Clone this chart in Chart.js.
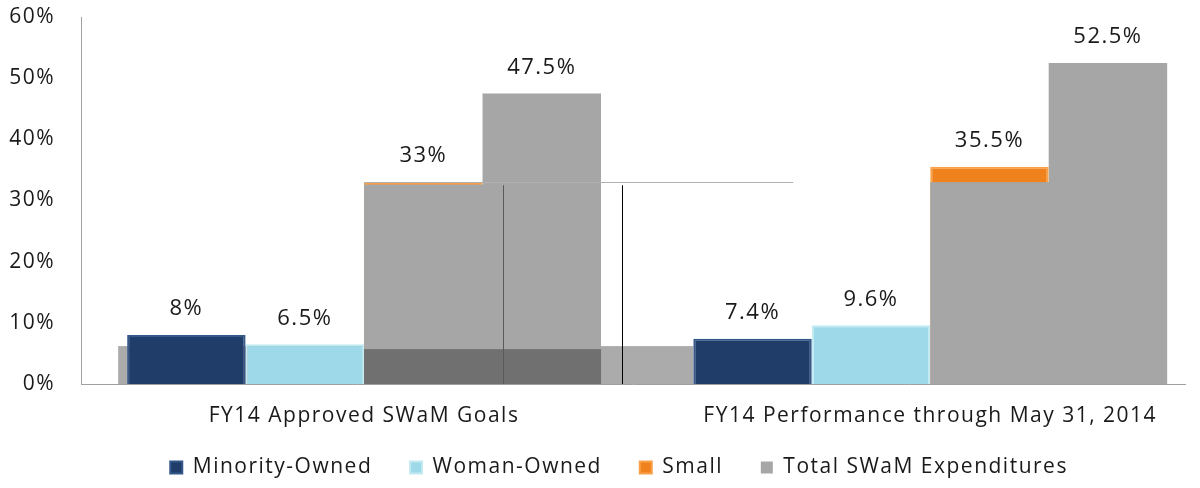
<!DOCTYPE html>
<html>
<head>
<meta charset="utf-8">
<script src="https://cdn.jsdelivr.net/npm/chart.js@4.4.0/dist/chart.umd.min.js"></script>
<style>
  html, body { margin: 0; padding: 0; background: #fff; }
</style>
</head>
<body>
<canvas id="chart" width="1200" height="488"></canvas>
<script>
const categories = ["FY14 Approved SWaM Goals", "FY14 Performance through May 31, 2014"];
const seriesNames = ["Minority-Owned", "Woman-Owned", "Small", "Total SWaM Expenditures"];
const minorityOwned = [8, 7.4];
const womanOwned = [6.5, 9.6];
const small = [33, 35.5];
const totalSwam = [47.5, 52.5];
// grey block that hides the lower part of the Small bars in the original
const smallHidden = [32.6, 33];
const yTicks = [0, 10, 20, 30, 40, 50, 60];

const FONT = "'Open Sans', 'DejaVu Sans', sans-serif";
const GREY = "#a6a6a6";
const SPACING = "1.5px";

const toPoints = (arr) => arr.map((v, i) => ({ x: i, y: v }));

// the source font is spaced out, so widen all canvas text a bit
const spacing = {
  id: "spacing",
  beforeUpdate(chart) {
    chart.ctx.letterSpacing = SPACING;
  },
  beforeDraw(chart) {
    chart.ctx.letterSpacing = SPACING;
  },
};

// floor band + stray lines left over from the 3D chart in the source
const floorPlugin = {
  id: "floor",
  beforeDatasetsDraw(chart) {
    const { ctx, scales: { y } } = chart;
    const bars = chart.getDatasetMeta(0).data;
    const left = bars[0].x - bars[0].width / 2 - 9;
    const right = bars[1].x - bars[1].width / 2;
    const top = y.getPixelForValue(6.2);
    ctx.save();
    ctx.fillStyle = "#ababab";
    ctx.fillRect(left, top, right - left, y.getPixelForValue(0) - top);
    ctx.restore();
  },
  afterDatasetsDraw(chart) {
    const { ctx, scales: { x, y } } = chart;
    const base = y.getPixelForValue(0);
    ctx.save();

    // grey cover over the Small bars
    ctx.fillStyle = GREY;
    chart.getDatasetMeta(2).data.forEach((bar, i) => {
      const top = y.getPixelForValue(smallHidden[i]);
      ctx.fillRect(bar.x - bar.width / 2, top, bar.width + 1, base - top);
    });

    // darker floor under the grey bars of the first group
    const s = chart.getDatasetMeta(2).data[0];
    const t = chart.getDatasetMeta(3).data[0];
    const fl = s.x - s.width / 2;
    const fr = t.x + t.width / 2;
    const ft = y.getPixelForValue(5.7);
    ctx.fillStyle = "#707070";
    ctx.fillRect(fl, ft, fr - fl, base - ft);

    // stray lines
    const ly = Math.round(y.getPixelForValue(33)) + 0.5;
    ctx.strokeStyle = "#b0b0b0";
    ctx.lineWidth = 1;
    ctx.beginPath();
    ctx.moveTo(fl, ly);
    ctx.lineTo(x.getPixelForValue(0.758), ly);
    ctx.stroke();
    const vy = y.getPixelForValue(32.5);
    const v1 = Math.round(x.getPixelForValue(0.245)) + 0.5;
    const v2 = Math.round(x.getPixelForValue(0.456)) + 0.5;
    ctx.strokeStyle = "#5a5a5a";
    ctx.beginPath();
    ctx.moveTo(v1, vy);
    ctx.lineTo(v1, base);
    ctx.stroke();
    ctx.strokeStyle = "#000";
    ctx.beginPath();
    ctx.moveTo(v2, vy);
    ctx.lineTo(v2, base);
    ctx.stroke();
    ctx.restore();
  },
};

const valueLabels = {
  id: "valueLabels",
  afterDraw(chart) {
    const { ctx } = chart;
    ctx.save();
    ctx.font = "22px " + FONT;
    ctx.fillStyle = "#1a1a1a";
    ctx.textAlign = "center";
    ctx.textBaseline = "middle";
    chart.data.datasets.forEach((ds, d) => {
      chart.getDatasetMeta(d).data.forEach((bar, i) => {
        ctx.fillText(ds.data[i].y + "%", bar.x, bar.y - 26);
      });
    });
    ctx.restore();
  },
};

new Chart(document.getElementById("chart"), {
  type: "bar",
  data: {
    datasets: [
      {
        label: seriesNames[0],
        data: toPoints(minorityOwned),
        backgroundColor: "#1f3d68",
        borderColor: "#34588a",
        borderWidth: 2,
      },
      {
        label: seriesNames[1],
        data: toPoints(womanOwned),
        backgroundColor: "#9dd9e9",
        borderColor: "#c2eaf3",
        borderWidth: 2,
      },
      {
        label: seriesNames[2],
        data: toPoints(small),
        backgroundColor: "#f0821e",
        borderColor: "#f9a14a",
        borderWidth: 2,
      },
      {
        label: seriesNames[3],
        data: toPoints(totalSwam),
        backgroundColor: GREY,
        borderWidth: 0,
      },
    ],
  },
  options: {
    responsive: false,
    animation: false,
    devicePixelRatio: 1,
    categoryPercentage: 0.837,
    barPercentage: 1,
    layout: { padding: { top: 17, right: 15, left: 0, bottom: 0 } },
    scales: {
      x: {
        type: "linear",
        offset: false,
        min: -0.5,
        max: 1.45,
        grid: { display: false, drawTicks: false },
        border: { color: "#a0a0a0" },
        afterBuildTicks: (axis) => {
          axis.ticks = categories.map((c, i) => ({ value: i }));
        },
        afterFit: (axis) => {
          axis.height = 63;
        },
        ticks: {
          callback: (v) => categories[v],
          autoSkip: false,
          maxRotation: 0,
          padding: 19,
          color: "#1a1a1a",
          font: { family: FONT, size: 21 },
        },
      },
      y: {
        min: 0,
        max: 60,
        afterBuildTicks: (axis) => {
          axis.ticks = yTicks.map((v) => ({ value: v }));
        },
        afterFit: (axis) => {
          axis.width = 81;
          axis.paddingTop = 0;
          axis.paddingBottom = 0;
        },
        grid: { display: false, drawTicks: false },
        border: { color: "#a0a0a0" },
        ticks: {
          callback: (v) => v + "%",
          padding: 26,
          color: "#1a1a1a",
          font: { family: FONT, size: 21 },
        },
      },
    },
    plugins: {
      legend: {
        position: "bottom",
        fullSize: false,
        labels: {
          boxWidth: 12,
          boxHeight: 12,
          padding: 10,
          color: "#1a1a1a",
          font: { family: FONT, size: 21 },
          // trailing spaces give the wide gaps between legend entries
          generateLabels: (chart) =>
            Chart.defaults.plugins.legend.labels.generateLabels(chart).map((item) => ({
              ...item,
              text: item.text + "    ",
            })),
        },
      },
      tooltip: { enabled: false },
    },
  },
  plugins: [spacing, floorPlugin, valueLabels],
});
</script>
</body>
</html>
